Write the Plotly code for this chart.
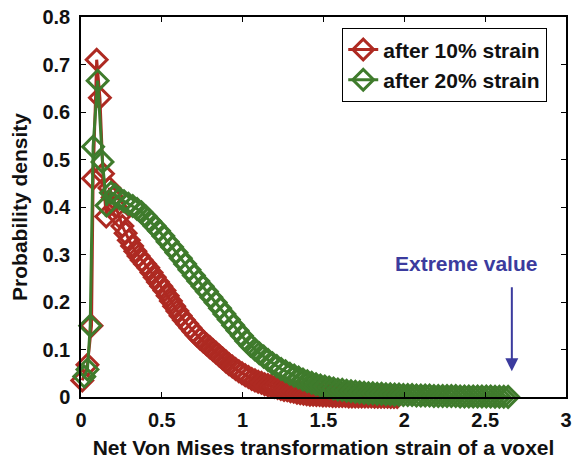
import plotly.graph_objects as go

# ---- data ----
red_x = [0.008, 0.04, 0.065, 0.075, 0.097, 0.117, 0.136, 0.156,
         0.176, 0.196, 0.216, 0.236, 0.256, 0.276, 0.296, 0.316, 0.336, 0.356,
         0.376, 0.396, 0.416, 0.436, 0.456, 0.476, 0.496, 0.516, 0.536, 0.556,
         0.576, 0.596, 0.616, 0.636, 0.656, 0.676, 0.696, 0.716, 0.736, 0.756,
         0.776, 0.796, 0.816, 0.836, 0.856, 0.876, 0.896, 0.916, 0.936, 0.956,
         0.976, 0.996, 1.016, 1.036, 1.056, 1.076, 1.096, 1.116, 1.136, 1.156,
         1.176, 1.196, 1.216, 1.236, 1.256, 1.276, 1.296, 1.316, 1.336, 1.356,
         1.376, 1.396, 1.416, 1.436, 1.456, 1.476, 1.496, 1.516, 1.536, 1.556,
         1.576, 1.596, 1.616, 1.636, 1.656, 1.676, 1.696, 1.716, 1.736, 1.756,
         1.776, 1.796, 1.816, 1.836, 1.856, 1.876, 1.896, 1.916, 1.936, 1.956]
red_y = [0.035, 0.068, 0.15, 0.46, 0.71, 0.63, 0.47, 0.38,
         0.44, 0.42, 0.40, 0.38, 0.36, 0.345, 0.33, 0.318, 0.307, 0.297,
         0.288, 0.28, 0.272, 0.262, 0.252, 0.242, 0.233, 0.224, 0.213, 0.202,
         0.191, 0.181, 0.171, 0.162, 0.154, 0.146, 0.138, 0.13, 0.123, 0.117,
         0.111, 0.105, 0.099, 0.093, 0.087, 0.081, 0.075, 0.069, 0.064, 0.059,
         0.054, 0.05, 0.046, 0.042, 0.038, 0.035, 0.032, 0.03, 0.027, 0.025,
         0.023, 0.021, 0.019, 0.017, 0.015, 0.014, 0.012, 0.011, 0.009, 0.008,
         0.007, 0.006, 0.005, 0.005, 0.004, 0.004, 0.003, 0.003, 0.003, 0.002,
         0.002, 0.002, 0.002, 0.002, 0.001, 0.001, 0.001, 0.001, 0.001, 0.001,
         0.001, 0.001, 0.0005, 0.0005, 0.0005, 0.0005, 0.0005, 0.0003, 0.0003, 0.0003]

green_x = [0.02, 0.04, 0.057, 0.075, 0.103, 0.133, 0.158,
           0.185, 0.212, 0.239, 0.266, 0.293, 0.320, 0.347, 0.374, 0.401, 0.428,
           0.455, 0.482, 0.509, 0.536, 0.563, 0.590, 0.617, 0.644, 0.671, 0.698,
           0.725, 0.752, 0.779, 0.806, 0.833, 0.860, 0.887, 0.914, 0.941, 0.968,
           0.995, 1.022, 1.049, 1.076, 1.103, 1.130, 1.157, 1.184, 1.211, 1.238,
           1.265, 1.292, 1.319, 1.346, 1.373, 1.400, 1.427, 1.454, 1.481, 1.508,
           1.535, 1.562, 1.589, 1.616, 1.643, 1.670, 1.697, 1.724, 1.751, 1.778,
           1.805, 1.832, 1.859, 1.886, 1.913, 1.940, 1.967, 1.994, 2.021, 2.048,
           2.075, 2.102, 2.129, 2.156, 2.183, 2.210, 2.237, 2.264, 2.291, 2.318,
           2.345, 2.372, 2.399, 2.426, 2.453, 2.480, 2.507, 2.534, 2.561, 2.588,
           2.615, 2.642]
green_y = [0.043, 0.058, 0.15, 0.527, 0.666, 0.495, 0.403,
           0.43, 0.425, 0.418, 0.412, 0.407, 0.402, 0.396, 0.389, 0.38, 0.37,
           0.36, 0.35, 0.339, 0.327, 0.316, 0.304, 0.292, 0.28, 0.268, 0.256,
           0.244, 0.233, 0.222, 0.21, 0.199, 0.187, 0.175, 0.163, 0.151, 0.14,
           0.129, 0.118, 0.108, 0.1, 0.092, 0.085, 0.078, 0.071, 0.065, 0.059,
           0.054, 0.049, 0.045, 0.041, 0.037, 0.033, 0.03, 0.027, 0.024, 0.022,
           0.02, 0.018, 0.016, 0.015, 0.013, 0.012, 0.011, 0.01, 0.009, 0.008,
           0.008, 0.007, 0.007, 0.006, 0.006, 0.005, 0.005, 0.004, 0.004, 0.004,
           0.003, 0.003, 0.003, 0.003, 0.002, 0.002, 0.002, 0.002, 0.002, 0.002,
           0.001, 0.001, 0.001, 0.001, 0.001, 0.001, 0.001, 0.001, 0.0005, 0.0005,
           0.0005, 0.0003]

series_names = ["after 10% strain", "after 20% strain"]
x_ticks = [0, 0.5, 1, 1.5, 2, 2.5, 3]
x_ticklabels = ["0", "0.5", "1", "1.5", "2", "2.5", "3"]
y_ticks = [0, 0.1, 0.2, 0.3, 0.4, 0.5, 0.6, 0.7, 0.8]
y_ticklabels = ["0", "0.1", "0.2", "0.3", "0.4", "0.5", "0.6", "0.7", "0.8"]
extreme_x = 2.665
annot_text = "Extreme value"

RED = "#AE2A22"
GREEN = "#3F7B2C"
BLUE = "#3B3B9E"
FONT = "Liberation Sans"

fig = go.Figure()
for xs, ys, name, col in [(red_x, red_y, series_names[0], RED),
                          (green_x, green_y, series_names[1], GREEN)]:
    fig.add_trace(go.Scatter(
        x=xs, y=ys, mode="lines+markers", name=name, cliponaxis=False,
        line=dict(color=col, width=3),
        marker=dict(symbol="diamond-open", size=16, color=col,
                    line=dict(width=3, color=col)),
    ))

axis_common = dict(
    showline=True, linecolor="black", linewidth=1.5, mirror="ticks",
    ticks="inside", ticklen=5, tickwidth=1.2, tickcolor="black",
    showgrid=False, zeroline=False,
    tickfont=dict(family=FONT, size=20, color="#111111", weight="bold"),
)

fig.update_layout(
    width=578, height=462,
    margin=dict(l=81, r=6, t=11, b=64),
    paper_bgcolor="white", plot_bgcolor="white",
    font=dict(family=FONT, color="#111111"),
    xaxis=dict(range=[0, 3], tickvals=x_ticks, ticktext=x_ticklabels,
               ticklabelstandoff=4,
               title=dict(text="Net Von Mises transformation strain of a voxel",
                          font=dict(family=FONT, size=21, weight="bold"),
                          standoff=11),
               **axis_common),
    yaxis=dict(range=[0, 0.8], tickvals=y_ticks, ticktext=y_ticklabels,
               ticklabelstandoff=5,
               title=dict(text="Probability density",
                          font=dict(family=FONT, size=21, weight="bold"),
                          standoff=9),
               **axis_common),
    legend=dict(x=0.538, y=0.971, xanchor="left", yanchor="top",
                bgcolor="white", bordercolor="black", borderwidth=1.3,
                font=dict(family=FONT, size=21, color="#111111", weight="bold"),
                itemwidth=30, tracegroupgap=0),
    showlegend=True,
)

fig.add_annotation(x=2.381, y=0.281, xref="x", yref="y", text=annot_text,
                   showarrow=False,
                   font=dict(family=FONT, size=21, color=BLUE, weight="bold"))
fig.add_annotation(x=extreme_x, y=0.054, ax=extreme_x, ay=0.234,
                   xref="x", yref="y", axref="x", ayref="y", text="",
                   showarrow=True, arrowhead=2, arrowsize=1.3, arrowwidth=2,
                   arrowcolor=BLUE)

fig.write_html("out.html")
